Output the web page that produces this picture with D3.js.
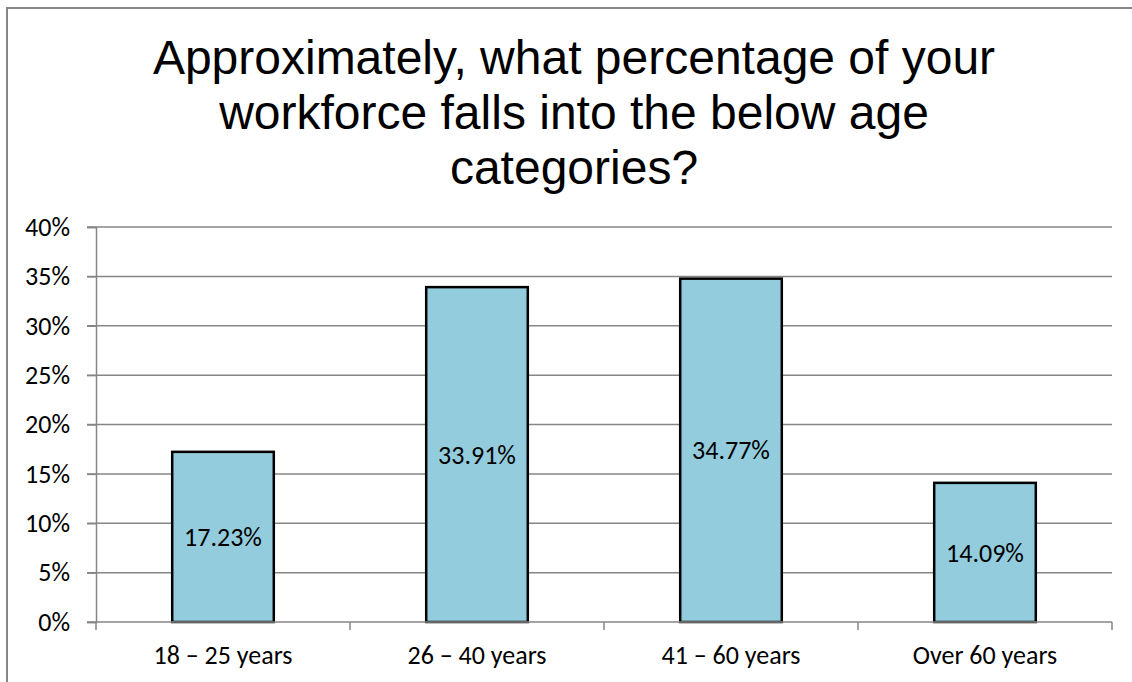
<!DOCTYPE html>
<html>
<head>
<meta charset="utf-8">
<script src="https://cdn.jsdelivr.net/npm/d3@7"></script>
<style>
  html, body { margin: 0; padding: 0; background: #fff; overflow: hidden; }
  svg { display: block; }
</style>
</head>
<body>
<svg id="chart" width="1132" height="682"></svg>
<script>
const titleLines = ["Approximately, what percentage of your", "workforce falls into the below age", "categories?"];
const categories = ["18 \u2013 25 years", "26 \u2013 40 years", "41 \u2013 60 years", "Over 60 years"];
const values = [17.23, 33.91, 34.77, 14.09];
const labels = ["17.23%", "33.91%", "34.77%", "14.09%"];
const yTicks = [0, 5, 10, 15, 20, 25, 30, 35, 40];

const svg = d3.select("#chart");
const plot = { left: 96, right: 1112, top: 227, bottom: 622 };
const grey = "#868686";
const labelFont = "Carlito, Calibri, Lato, sans-serif";
const labelSize = 26;

// outer chart border: only left and top edges are visible
svg.append("path")
  .attr("d", "M7,690 L7,8 L1140,8")
  .attr("fill", "none").attr("stroke", grey).attr("stroke-width", 2);

// title
const title = svg.append("text")
  .attr("text-anchor", "middle")
  .attr("font-family", "'Liberation Sans', Arial, sans-serif")
  .attr("font-size", 48)
  .attr("fill", "#000");
titleLines.forEach((t, i) => {
  title.append("tspan").attr("x", 574).attr("y", 74 + i * 55).text(t);
});

const x = d3.scaleBand().domain(categories).range([plot.left, plot.right]).paddingInner(0.6).paddingOuter(0.3);
const xOuter = d3.scaleBand().domain(categories).range([plot.left, plot.right]);
const y = d3.scaleLinear().domain([0, 40]).range([plot.bottom, plot.top]);

// gridlines
svg.append("g").selectAll("line").data(yTicks.filter(d => d > 0)).join("line")
  .attr("x1", plot.left - 9).attr("x2", plot.right)
  .attr("y1", d => y(d)).attr("y2", d => y(d))
  .attr("stroke", grey).attr("stroke-width", 1.5);

// y axis
const yAxis = svg.append("g")
  .attr("transform", `translate(${plot.left},0)`)
  .call(d3.axisLeft(y).tickValues(yTicks).tickFormat(d => d + "%").tickSize(9).tickPadding(17));
yAxis.select(".domain").attr("stroke", grey).attr("stroke-width", 1.5);
yAxis.selectAll(".tick line").attr("stroke", grey).attr("stroke-width", 1.5);
yAxis.selectAll(".tick text")
  .attr("font-family", labelFont).attr("font-size", labelSize).attr("fill", "#000");

// bars
svg.append("g").selectAll("rect").data(values).join("rect")
  .attr("x", (d, i) => x(categories[i]))
  .attr("y", d => y(d))
  .attr("width", x.bandwidth())
  .attr("height", d => y(0) - y(d))
  .attr("fill", "#93CDDD")
  .attr("stroke", "#000").attr("stroke-width", 2.5);

// x axis
const boundaries = categories.map(c => xOuter(c)).concat([plot.right]);
svg.append("line")
  .attr("x1", plot.left - 9).attr("x2", plot.right)
  .attr("y1", y(0)).attr("y2", y(0))
  .attr("stroke", grey).attr("stroke-width", 1.5);
svg.append("g").selectAll("line").data(boundaries).join("line")
  .attr("x1", d => d).attr("x2", d => d)
  .attr("y1", y(0)).attr("y2", y(0) + 8)
  .attr("stroke", grey).attr("stroke-width", 1.5);
svg.append("g").selectAll("text").data(categories).join("text")
  .attr("x", d => xOuter(d) + xOuter.bandwidth() / 2)
  .attr("y", 664)
  .attr("text-anchor", "middle")
  .attr("font-family", labelFont).attr("font-size", labelSize).attr("fill", "#000")
  .text(d => d);

// data labels
svg.append("g").selectAll("text").data(values).join("text")
  .attr("x", (d, i) => x(categories[i]) + x.bandwidth() / 2)
  .attr("y", d => (y(d) + y(0)) / 2)
  .attr("dy", "0.35em")
  .attr("text-anchor", "middle")
  .attr("font-family", labelFont).attr("font-size", labelSize).attr("fill", "#000")
  .text((d, i) => labels[i]);
</script>
</body>
</html>
